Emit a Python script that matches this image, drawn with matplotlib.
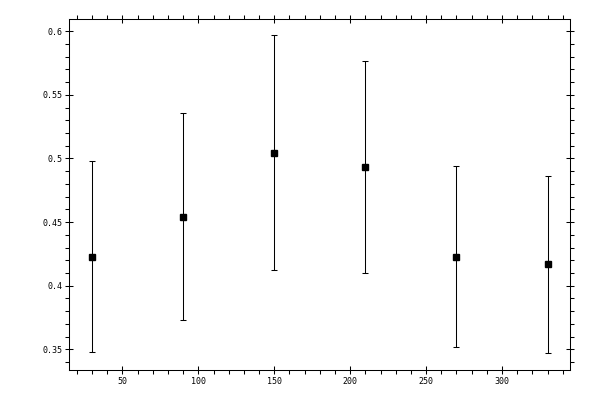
import numpy as np
import matplotlib
matplotlib.use("Agg")
import matplotlib.pyplot as plt
from matplotlib.ticker import MultipleLocator

# Data
x_vals = [30, 90, 150, 210, 270, 330]
y_vals = [0.4224, 0.4539, 0.5043, 0.4932, 0.4224, 0.4168]
y_upper = [0.4980, 0.5357, 0.5972, 0.5767, 0.4943, 0.4861]
y_lower = [0.3476, 0.3727, 0.4124, 0.4098, 0.3515, 0.3468]

y = np.array(y_vals)
err = [y - np.array(y_lower), np.array(y_upper) - y]

fig = plt.figure(figsize=(6, 4), dpi=100)
ax = fig.add_axes([0.1155, 0.0743, 0.835, 0.8775])

ax.errorbar(x_vals, y_vals, yerr=err, fmt="s", color="black",
            ms=5, capsize=1.9, elinewidth=0.75, capthick=0.75)

ax.set_xlim(15, 345)
ax.set_ylim(0.3335, 0.6094)

ax.xaxis.set_major_locator(MultipleLocator(50))
ax.xaxis.set_minor_locator(MultipleLocator(10))
ax.yaxis.set_major_locator(MultipleLocator(0.05))
ax.yaxis.set_minor_locator(MultipleLocator(0.01))
ax.yaxis.set_major_formatter(plt.FuncFormatter(lambda v, p: ("%g" % round(v, 3))))

ax.tick_params(which="major", direction="inout", length=5.8, width=0.75,
               top=True, right=True, labelsize=6, pad=2)
ax.tick_params(which="minor", direction="out", length=2.9, width=0.75,
               top=True, right=True)
for lab in ax.get_xticklabels() + ax.get_yticklabels():
    lab.set_family("DejaVu Sans Mono")
for s in ax.spines.values():
    s.set_linewidth(0.75)

fig.savefig("out.png", dpi=100)
